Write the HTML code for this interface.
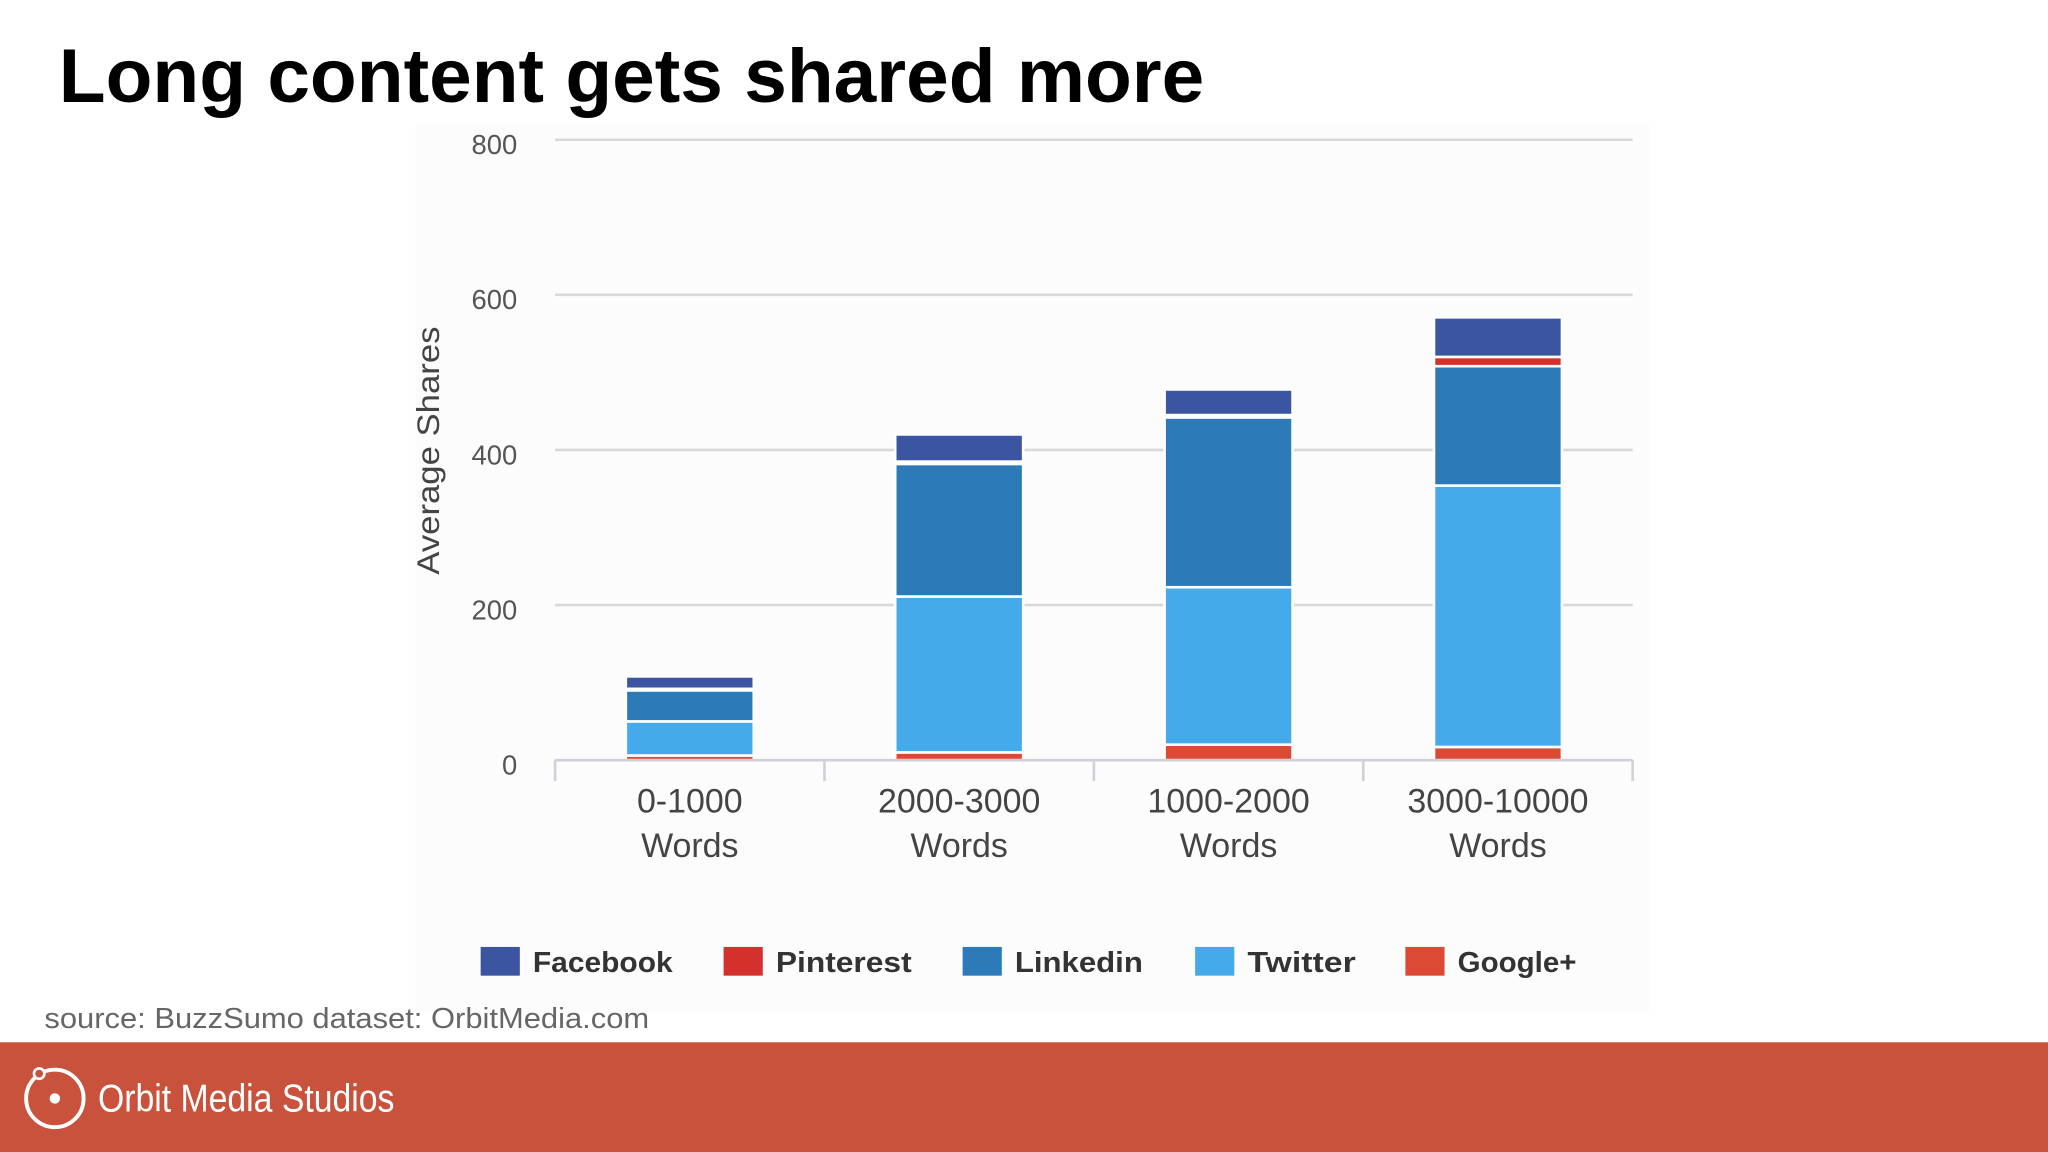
<!DOCTYPE html>
<html><head><meta charset="utf-8"><style>
html,body{margin:0;padding:0;background:#fff;}
svg{display:block;}
</style></head><body>
<svg id="c" width="2048" height="1152" viewBox="0 0 1568 882" xmlns="http://www.w3.org/2000/svg" font-family="'Liberation Sans', sans-serif">
<rect x="0" y="0" width="1568" height="882" fill="#ffffff"/>
<rect x="318" y="95" width="945" height="680" fill="#fcfcfc"/>
<text x="45" y="78" font-size="58" font-weight="bold" fill="#000" textLength="877" lengthAdjust="spacingAndGlyphs">Long content gets shared more</text>
<g id="grid"></g>
<g id="bars"></g>
<g id="xaxis"></g>
<text transform="translate(336,345) rotate(-90)" text-anchor="middle" font-size="24" fill="#444" textLength="190" lengthAdjust="spacingAndGlyphs">Average Shares</text>
<g id="legend"></g>
<text x="34" y="787" font-size="22" fill="#666" textLength="463" lengthAdjust="spacingAndGlyphs">source: BuzzSumo dataset: OrbitMedia.com</text>
<rect x="0" y="798" width="1568" height="84" fill="#c9523c"/>
<g>
<circle cx="42" cy="841" r="22" fill="none" stroke="#fff" stroke-width="3"/>
<circle cx="42" cy="841" r="4" fill="#fff"/>
<circle cx="30" cy="822" r="4" fill="#c9523c" stroke="#fff" stroke-width="2"/>
</g>
<text x="75" y="851" font-size="30" fill="#fff" textLength="227" lengthAdjust="spacingAndGlyphs">Orbit Media Studios</text>
</svg>
<script>
const categories = ["0-1000", "2000-3000", "1000-2000", "3000-10000"];
const seriesNames = ["Google+", "Twitter", "Linkedin", "Pinterest", "Facebook"];
const googlePlus = [6, 10, 20, 17];
const twitter = [44, 201, 203, 337];
const linkedin = [40, 171, 219, 154];
const pinterest = [2, 3, 3, 12];
const facebook = [16, 35, 33, 51];
const yTicks = [0, 200, 400, 600, 800];
const legendOrder = ["Facebook", "Pinterest", "Linkedin", "Twitter", "Google+"];

const colors = {"Facebook":"#3b55a0","Pinterest":"#d4302c","Linkedin":"#2c7ab7","Twitter":"#45aaea","Google+":"#dc4a36"};
const NS = "http://www.w3.org/2000/svg";
const x0 = 425, x1 = 1250, y0 = 582, yTop = 107, yMax = 800;
function yS(v){ return y0 - (v / yMax) * (y0 - yTop); }
const band = (x1 - x0) / categories.length;
function xC(i){ return x0 + band * (i + 0.5); }
const barW = band * 0.475;
function mk(tag, attrs, parent){ const e = document.createElementNS(NS, tag); for (const k in attrs) e.setAttribute(k, attrs[k]); parent.appendChild(e); return e; }

const grid = document.getElementById('grid');
yTicks.forEach(t => {
  if (t > 0) {
    const l = mk('line', {x1:x0, x2:x1, y1:yS(t), y2:yS(t), stroke:'#d8d8d8', 'stroke-width':2}, grid);
    
    
  }
  const tx = mk('text', {x:396, y:yS(t)+11, 'text-anchor':'end', 'font-size':21, fill:'#555'}, grid);
  tx.textContent = t;
  
  
});

const bars = document.getElementById('bars');
const seriesData = [googlePlus, twitter, linkedin, pinterest, facebook];
categories.forEach((c, i) => {
  let cum = 0;
  seriesData.forEach((arr, s) => {
    const v = arr[i];
    const yt = yS(cum + v), yb = yS(cum);
    const r = mk('rect', {x:xC(i)-barW/2, y:yt, width:barW, height:Math.max(0, yb-yt), fill:colors[seriesNames[s]], stroke:'#fff', 'stroke-width':2}, bars);
    
    
    cum += v;
  });
});

const xa = document.getElementById('xaxis');
const ax = mk('line', {x1:x0, x2:x1, y1:y0, y2:y0, stroke:'#d0d0d8', 'stroke-width':2}, xa);


for (let i = 0; i <= categories.length; i++) {
  const tk = mk('line', {x1:x0+band*i, x2:x0+band*i, y1:y0, y2:y0+16, stroke:'#d0d0d8', 'stroke-width':2}, xa);
  
  
}
categories.forEach((c, i) => {
  const t = mk('text', {x:xC(i), y:622, 'text-anchor':'middle', 'font-size':26, fill:'#444'}, xa);
  t.textContent = c;
  
  
  const t2 = mk('text', {x:xC(i), y:656, 'text-anchor':'middle', 'font-size':26, fill:'#444'}, xa);
  t2.textContent = 'Words';
  
  
});

const lg = document.getElementById('legend');
const legX = [368, 554, 737, 915, 1076];
const legW = [107, 104, 98, 83, 91];
legendOrder.forEach((n, i) => {
  const g = mk('g', {}, lg);
  
  
  mk('rect', {x:legX[i], y:725, width:30, height:22, fill:colors[n]}, g);
  const t = mk('text', {x:legX[i]+40, y:744, 'font-size':22, 'font-weight':'bold', fill:'#333', textLength:legW[i], lengthAdjust:'spacingAndGlyphs'}, g);
  t.textContent = n;
});
</script>
</body></html>
